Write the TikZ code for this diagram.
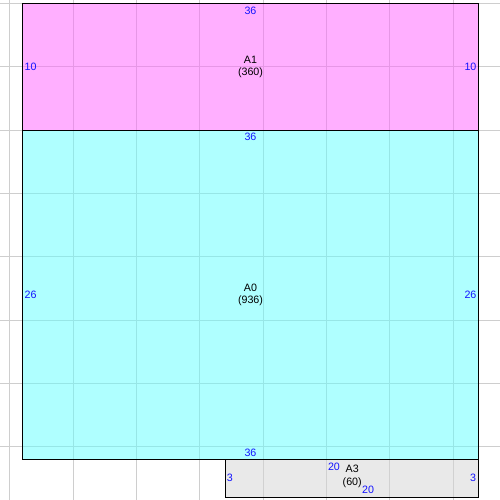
\documentclass[tikz,border=0pt]{standalone}
\usepackage{fontspec}
\setmainfont{Liberation Sans}
\definecolor{dimblue}{RGB}{20,20,255}
\definecolor{pinkfill}{RGB}{255,97,255}
\definecolor{cyanfill}{RGB}{97,255,255}
\definecolor{grayfill}{RGB}{213,213,213}
\definecolor{gridgray}{RGB}{206,206,206}
\begin{document}
\begin{tikzpicture}[x=0.5cm,y=0.5cm,
  region/.style={draw=black,line width=1.1pt},
  areafill/.style={fill opacity=0.5},
  gridline/.style={draw=gridgray,line width=1pt},
  dim/.style={text=dimblue,font=\fontsize{12}{14}\selectfont,inner sep=0pt},
  areaname/.style={font=\fontsize{12}{14}\selectfont,align=center,inner sep=0pt}]
\fill[white] (-1.776,0.276) rectangle (37.698,-39.197);
\useasboundingbox (-1.776,0.276) rectangle (37.698,-39.197);
% grid
\foreach \gx in {-1,4,...,34} \draw[gridline] (\gx,0.276) -- (\gx,-39.197);
\foreach \gy in {0,-5,...,-35} \draw[gridline] (-1.776,\gy) -- (37.698,\gy);
% fills (half transparent over the grid)
\fill[pinkfill,areafill] (0,0) rectangle (36,-10);
\fill[cyanfill,areafill] (0,-10) rectangle (36,-36);
\fill[grayfill,areafill] (16,-36) rectangle (36,-39);
% borders
\draw[region] (0,0) rectangle (36,-10);
\draw[region] (0,-10) rectangle (36,-36);
\draw[region] (16,-36) rectangle (36,-39);
% A1 labels
\node[areaname] (a1) at (18,-5) {A1\\(360)};
\node[dim] (a1t) at (18,-0.55) {36};
\node[dim,anchor=west] (a1l) at (0.15,-5) {10};
\node[dim,anchor=east] (a1r) at (35.85,-5) {10};
% A0 labels
\node[areaname] (a0) at (18,-23) {A0\\(936)};
\node[dim] (a0t) at (18,-10.54) {36};
\node[dim] (a0b) at (18,-35.49) {36};
\node[dim,anchor=west] (a0l) at (0.15,-23) {26};
\node[dim,anchor=east] (a0r) at (35.85,-23) {26};
% A3 labels
\node[areaname] (a3) at (26.03,-37.33) {A3\\(60)};
\node[dim] (a3t) at (24.59,-36.57) {20};
\node[dim] (a3b) at (27.28,-38.41) {20};
\node[dim,anchor=west] (a3l) at (16.12,-37.48) {3};
\node[dim,anchor=east] (a3r) at (35.82,-37.48) {3};
\end{tikzpicture}
\end{document}
